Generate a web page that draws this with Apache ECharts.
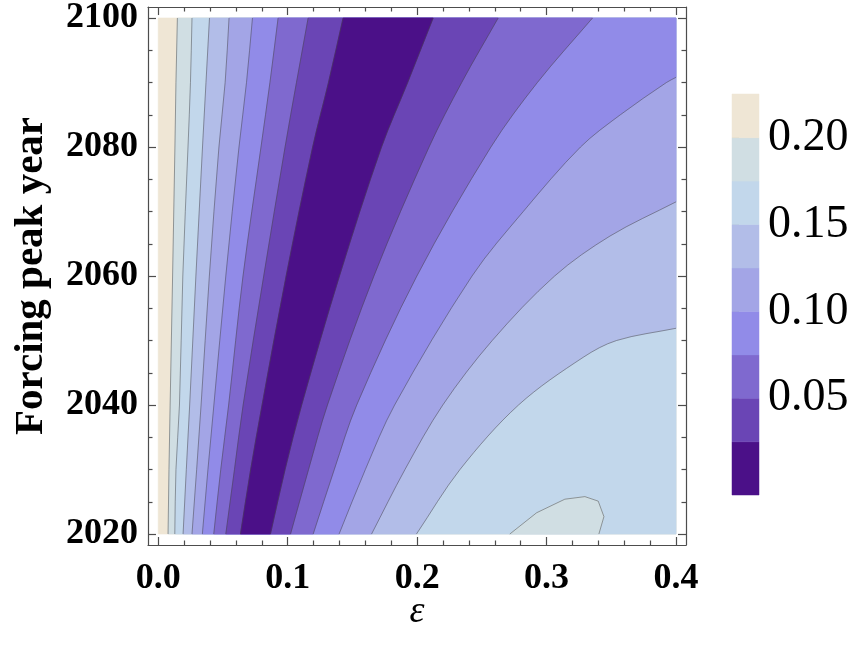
<!DOCTYPE html>
<html><head><meta charset="utf-8">
<script src="https://cdn.jsdelivr.net/npm/echarts@6/dist/echarts.min.js"></script>
<style>html,body{margin:0;padding:0;background:#fff}#c{width:854px;height:651px}</style>
</head><body><div id="c"></div>
<script>
// ---- tick labels ----
const xTicks = [0, 0.1, 0.2, 0.3, 0.4];
const xMinorTicks = [0.02,0.04,0.06,0.08,0.12,0.14,0.16,0.18,0.22,0.24,0.26,0.28,0.32,0.34,0.36,0.38];
const yTicks = [2020, 2040, 2060, 2080, 2100];
const yMinorTicks = [2025,2030,2035,2045,2050,2055,2065,2070,2075,2085,2090,2095];
const legendTicks = [0.05, 0.10, 0.15, 0.20];

// ---- contour levels & colours ----
const levels = [0.025, 0.05, 0.075, 0.1, 0.125, 0.15, 0.175, 0.2];
const bandColors = ['#4b1088','#6a45b5','#7f69cf','#918be8','#a3a5e6','#b2bde8','#c2d7eb','#d0dee3','#efe6d5'];
const legendEdges = [-0.0056, 0.025, 0.05, 0.075, 0.1, 0.125, 0.15, 0.175, 0.2, 0.2251];

// ---- contours (epsilon at each forcing peak year) ----
const years = [2020, 2030, 2040, 2060, 2080, 2090, 2100];
const left200 = [0.0076, 0.0083, 0.0092, 0.0111, 0.0129, 0.0137, 0.0148];
const left175 = [0.0128, 0.0137, 0.0164, 0.0190, 0.0230, 0.0249, 0.0261];
const left150 = [0.0192, 0.0217, 0.0243, 0.0291, 0.0342, 0.0369, 0.0396];
const left125 = [0.0261, 0.0297, 0.0331, 0.0395, 0.0469, 0.0517, 0.0547];
const left100 = [0.0341, 0.0384, 0.0430, 0.0522, 0.0624, 0.0682, 0.0728];
const left075 = [0.0429, 0.0483, 0.0544, 0.0655, 0.0794, 0.0863, 0.0926];
const left050 = [0.0522, 0.0589, 0.0656, 0.0815, 0.0980, 0.1068, 0.1158];
const left025 = [0.0635, 0.0714, 0.0802, 0.0988, 0.1193, 0.1315, 0.1428];
const right025 = [0.0867, 0.0980, 0.1108, 0.1400, 0.1725, 0.1927, 0.2124];
const right050 = [0.1022, 0.1161, 0.1307, 0.1666, 0.2092, 0.2344, 0.2626];
const right075 = [0.1197, 0.1360, 0.1533, 0.1998, 0.2570, 0.2929, 0.3355];
const right100 = [[0.1397,2020],[0.1600,2030],[0.1826,2040],[0.2424,2060],[0.282,2070],[0.3262,2080],[0.357,2085],[0.3926,2090],[0.4,2090.8]];
const right125 = [[0.1648,2020],[0.1906,2030],[0.2198,2040],[0.258,2050],[0.3062,2060],[0.349,2066.2],[0.4,2071.5]];
const right150 = [[0.1995,2020],[0.2331,2030],[0.2783,2040],[0.3283,2047.4],[0.354,2050.0],[0.4,2051.9]];
const bump175 = [[0.2716,2020],[0.2923,2023.3],[0.3141,2025.4],[0.3296,2025.8],[0.3399,2025.1],[0.3443,2022.7],[0.3404,2020]];

const X0 = 0, X1 = 0.4, Y0 = 2020, Y1 = 2100;

function pts(xs) { return xs.map((x, i) => [x, years[i]]); }
function rev(a) { return a.slice().reverse(); }

// each layer: list of segments, 's' = smooth contour, 'l' = straight frame edge
const layers = [
  { c: bandColors[8], segs: [['l', [[X0,Y0],[X1,Y0],[X1,Y1],[X0,Y1]]]] },
  { c: bandColors[7], segs: [['s', pts(left200)], ['l', [[X1,Y1],[X1,Y0]]]] },
  { c: bandColors[6], segs: [['s', pts(left175)], ['l', [[X1,Y1],[X1,Y0]]]] },
  { c: bandColors[5], segs: [['s', pts(left150)], ['l', [[X1,Y1]]], ['s', rev(right150)]] },
  { c: bandColors[4], segs: [['s', pts(left125)], ['l', [[X1,Y1]]], ['s', rev(right125)]] },
  { c: bandColors[3], segs: [['s', pts(left100)], ['l', [[X1,Y1]]], ['s', rev(right100)]] },
  { c: bandColors[2], segs: [['s', pts(left075)], ['s', rev(pts(right075))]] },
  { c: bandColors[1], segs: [['s', pts(left050)], ['s', rev(pts(right050))]] },
  { c: bandColors[0], segs: [['s', pts(left025)], ['s', rev(pts(right025))]] },
  { c: bandColors[7], segs: [['l', bump175]] }
];
const lines = [left200,left175,left150,left125,left100,left075,left050,left025,right025,right050,right075]
  .map(p => ['s', pts(p)]).concat([['s', right100], ['s', right125], ['s', right150], ['l', bump175]]);

function f(v) { return v.toFixed(2); }
function dist(a, b) { return Math.hypot(b[0] - a[0], b[1] - a[1]) || 1e-6; }
// chord-length parameterised cubic spline through pixel points
function segPath(kind, P, first) {
  let d = (first ? 'M' : 'L') + f(P[0][0]) + ' ' + f(P[0][1]);
  const n = P.length;
  if (kind === 'l' || n < 3) {
    for (let i = 1; i < n; i++) d += 'L' + f(P[i][0]) + ' ' + f(P[i][1]);
    return d;
  }
  const D = [];
  for (let i = 0; i < n - 1; i++) D.push(dist(P[i], P[i + 1]));
  const T = [];
  for (let i = 0; i < n; i++) {
    if (i === 0) T.push([(P[1][0] - P[0][0]) / D[0], (P[1][1] - P[0][1]) / D[0]]);
    else if (i === n - 1) T.push([(P[i][0] - P[i - 1][0]) / D[i - 1], (P[i][1] - P[i - 1][1]) / D[i - 1]]);
    else {
      const s = D[i - 1] + D[i];
      T.push([(P[i + 1][0] - P[i - 1][0]) / s, (P[i + 1][1] - P[i - 1][1]) / s]);
    }
  }
  for (let i = 0; i < n - 1; i++) {
    const k = D[i] / 3;
    const c1 = [P[i][0] + T[i][0] * k, P[i][1] + T[i][1] * k];
    const c2 = [P[i + 1][0] - T[i + 1][0] * k, P[i + 1][1] - T[i + 1][1] * k];
    d += 'C' + f(c1[0]) + ' ' + f(c1[1]) + ' ' + f(c2[0]) + ' ' + f(c2[1]) + ' ' + f(P[i + 1][0]) + ' ' + f(P[i + 1][1]);
  }
  return d;
}

const FONT = 'Liberation Serif';
const frameColor = '#4d4d4d';

function xAx(pos, vals, len, showLine, label) {
  return {
    gridIndex: 0, type: 'value', min: -0.0079, max: 0.4077, position: pos,
    axisLine: { show: showLine, onZero: false, lineStyle: { color: frameColor, width: 1.2 } },
    axisTick: { show: true, inside: true, length: len, customValues: vals, lineStyle: { color: frameColor, width: 1.2 } },
    axisLabel: label ? { show: true, customValues: vals, formatter: v => v.toFixed(1), fontFamily: FONT, fontWeight: 'bold', fontSize: 36, color: '#000', margin: 16 } : { show: false },
    splitLine: { show: false }
  };
}
function yAx(pos, vals, len, showLine, label) {
  return {
    gridIndex: 0, type: 'value', min: 2018.3, max: 2101.7, position: pos,
    axisLine: { show: showLine, onZero: false, lineStyle: { color: frameColor, width: 1.2 } },
    axisTick: { show: true, inside: true, length: len, customValues: vals, lineStyle: { color: frameColor, width: 1.2 } },
    axisLabel: label ? { show: true, customValues: vals, formatter: v => String(v), fontFamily: FONT, fontWeight: 'bold', fontSize: 36, color: '#000', margin: 10 } : { show: false },
    splitLine: { show: false }
  };
}

const xAxes = [
  Object.assign(xAx('bottom', xTicks, 8, true, true), {
    name: 'ε', nameLocation: 'middle', nameGap: 48, nameMoveOverlap: false,
    nameTextStyle: { fontFamily: FONT, fontStyle: 'italic', fontSize: 38, color: '#000' }
  }),
  xAx('bottom', xMinorTicks, 4.5, false, false),
  xAx('top', xTicks, 8, true, false),
  xAx('top', xMinorTicks, 4.5, false, false),
  { gridIndex: 1, type: 'value', min: 0, max: 1, show: false }
];
const yAxes = [
  Object.assign(yAx('left', yTicks, 8, true, true), {
    name: 'Forcing peak year', nameLocation: 'middle', nameGap: 96, nameRotate: 90,
    nameTextStyle: { fontFamily: FONT, fontWeight: 'bold', fontSize: 41, color: '#000' }
  }),
  yAx('left', yMinorTicks, 4.5, false, false),
  yAx('right', yTicks, 8, true, false),
  yAx('right', yMinorTicks, 4.5, false, false),
  {
    gridIndex: 1, type: 'value', min: legendEdges[0], max: legendEdges[legendEdges.length - 1], position: 'right',
    axisLine: { show: false },
    axisTick: { show: true, inside: false, length: 7, customValues: legendTicks, lineStyle: { color: '#999', width: 1 } },
    axisLabel: { show: true, customValues: legendTicks, formatter: v => v.toFixed(2), fontFamily: FONT, fontSize: 46, color: '#000', margin: 9 },
    splitLine: { show: false }
  }
];

const option = {
  animation: false,
  backgroundColor: '#fff',
  grid: [
    { left: 148, top: 6, width: 538, height: 539, containLabel: false },
    { left: 732, top: 94, width: 27, height: 401, containLabel: false }
  ],
  xAxis: xAxes,
  yAxis: yAxes,
  series: [
    {
      type: 'custom', xAxisIndex: 0, yAxisIndex: 0, silent: true, clip: true,
      data: layers.map((l, i) => [i]),
      renderItem: function (params, api) {
        const l = layers[params.dataIndex];
        let d = '';
        l.segs.forEach((s, k) => { d += segPath(s[0], s[1].map(p => api.coord(p)), k === 0); });
        d += 'Z';
        return { type: 'path', shape: { pathData: d }, style: { fill: l.c, stroke: l.c, lineWidth: 0.6 } };
      }
    },
    {
      type: 'custom', xAxisIndex: 0, yAxisIndex: 0, silent: true, clip: true, z: 3,
      data: lines.map((l, i) => [i]),
      renderItem: function (params, api) {
        const l = lines[params.dataIndex];
        const d = segPath(l[0], l[1].map(p => api.coord(p)), true);
        return { type: 'path', shape: { pathData: d }, style: { fill: null, stroke: 'rgba(70,70,70,0.55)', lineWidth: 0.9 } };
      }
    },
    {
      type: 'custom', xAxisIndex: 4, yAxisIndex: 4, silent: true,
      data: bandColors.map((c, i) => [i]),
      renderItem: function (params, api) {
        const i = params.dataIndex;
        const a = api.coord([0, legendEdges[i + 1]]);
        const b = api.coord([1, legendEdges[i]]);
        return { type: 'rect', shape: { x: a[0], y: a[1], width: b[0] - a[0], height: b[1] - a[1] }, style: { fill: bandColors[i], stroke: bandColors[i], lineWidth: 0.5 } };
      }
    }
  ]
};
const chart = echarts.init(document.getElementById('c'), null, { renderer: 'canvas' });
chart.setOption(option);
</script></body></html>
